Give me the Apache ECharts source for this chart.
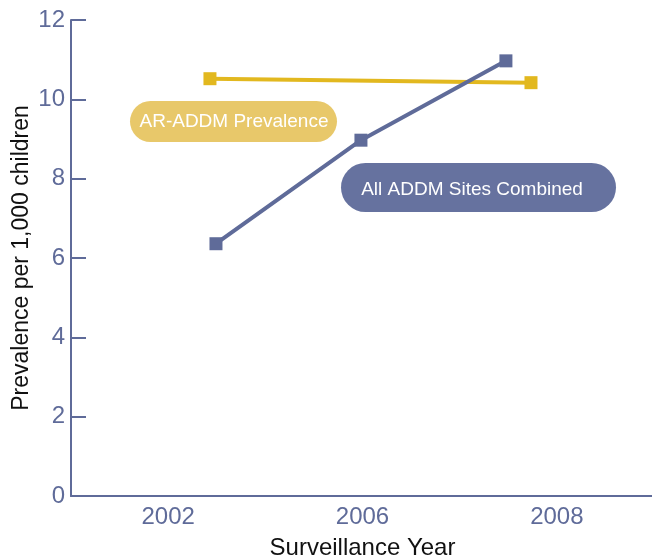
<!DOCTYPE html>
<html>
<head>
<meta charset="utf-8">
<script src="https://cdn.jsdelivr.net/npm/echarts@6/dist/echarts.min.js"></script>
<style>html,body{margin:0;padding:0;background:#fff;}#c{width:652px;height:559px;}</style>
</head>
<body>
<div id="c"></div>
<script>
// Category tick labels along the x axis
var categories = ['2002', '2006', '2008'];
// Positions (in category units, 0..3) and values of each series' points
var arX = [0.715, 2.367];
var arY = [10.52, 10.42];
var allX = [0.746, 1.492, 2.238];
var allY = [6.36, 8.97, 10.97];
var yTicks = [0, 2, 4, 6, 8, 10, 12];

var axisColor = '#5f6b99';
var yellow = '#e2b81f';
var blue = '#5f6b99';
var font = '"Liberation Sans", Arial, sans-serif';

var chart = echarts.init(document.getElementById('c'), null, {renderer: 'canvas'});
chart.setOption({
  animation: false,
  backgroundColor: '#fff',
  grid: {left: 71, top: 20, width: 583, height: 476, containLabel: false, outerBoundsMode: 'none'},
  xAxis: [{
    type: 'category',
    data: categories,
    boundaryGap: true,
    name: 'Surveillance Year',
    nameLocation: 'middle',
    nameGap: 40,
    nameMoveOverlap: false,
    nameTextStyle: {color: '#111', fontSize: 24, fontFamily: font},
    axisLine: {lineStyle: {color: axisColor, width: 2}},
    axisTick: {inside: true, length: 12, lineStyle: {color: axisColor, width: 2}},
    axisLabel: {color: axisColor, fontSize: 24, fontFamily: font, margin: 9},
    splitLine: {show: false}
  }, {
    type: 'value',
    min: 0, max: 3,
    show: false
  }],
  yAxis: {
    type: 'value',
    min: yTicks[0], max: yTicks[yTicks.length - 1], interval: 2,
    name: 'Prevalence per 1,000 children',
    nameLocation: 'middle',
    nameGap: 38,
    nameMoveOverlap: false,
    nameTextStyle: {color: '#111', fontSize: 23, fontFamily: font},
    axisLine: {show: true, lineStyle: {color: axisColor, width: 2}},
    axisTick: {show: true, inside: true, length: 15, lineStyle: {color: axisColor, width: 2}},
    axisLabel: {color: axisColor, fontSize: 24, fontFamily: font, margin: 6},
    splitLine: {show: false}
  },
  series: [{
    name: 'AR-ADDM Prevalence',
    type: 'line',
    xAxisIndex: 1,
    data: arX.map(function (x, i) { return [x, arY[i]]; }),
    symbol: 'rect', symbolSize: 13,
    lineStyle: {color: yellow, width: 4},
    itemStyle: {color: yellow},
    z: 3
  }, {
    name: 'All ADDM Sites Combined',
    type: 'line',
    xAxisIndex: 1,
    data: allX.map(function (x, i) { return [x, allY[i]]; }),
    symbol: 'rect', symbolSize: 13,
    lineStyle: {color: blue, width: 4},
    itemStyle: {color: blue},
    z: 4
  }],
  graphic: [{
    type: 'rect', z: 10,
    shape: {x: 130, y: 101, width: 207, height: 41, r: 20.5},
    style: {fill: '#e8c86a'}
  }, {
    type: 'text', z: 11,
    style: {x: 234, y: 122, text: 'AR-ADDM Prevalence', fill: '#fff', font: '19px ' + font, textAlign: 'center', textVerticalAlign: 'middle'}
  }, {
    type: 'rect', z: 10,
    shape: {x: 341, y: 163, width: 275, height: 49, r: 24.5},
    style: {fill: '#66729f'}
  }, {
    type: 'text', z: 11,
    style: {x: 472, y: 190, text: 'All ADDM Sites Combined', fill: '#fff', font: '19px ' + font, textAlign: 'center', textVerticalAlign: 'middle'}
  }]
});
</script>
</body>
</html>
